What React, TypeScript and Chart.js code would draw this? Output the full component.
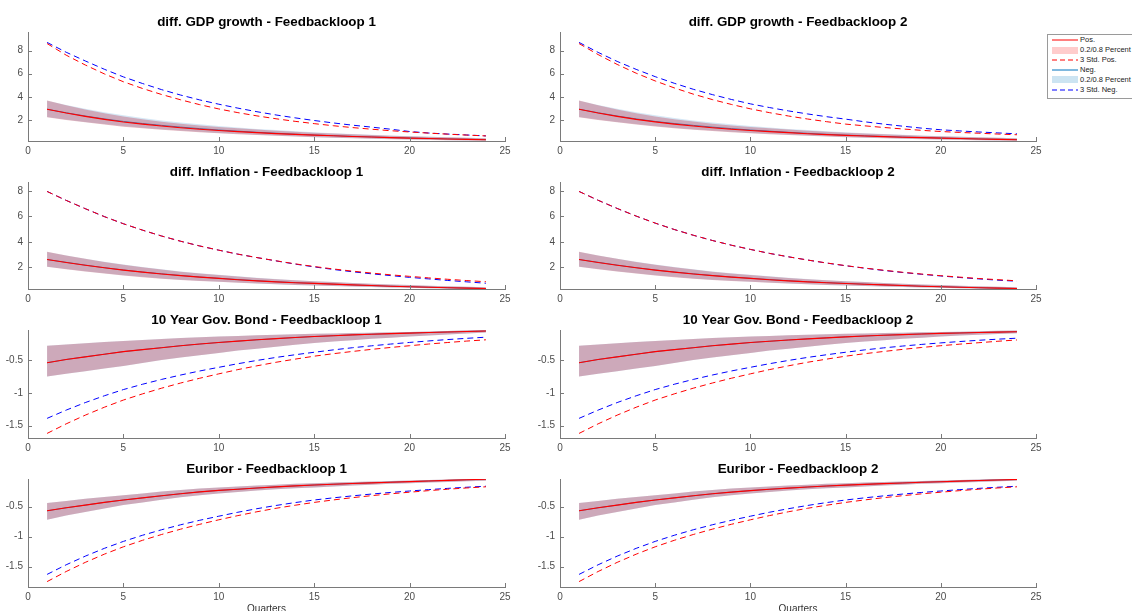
import React, { useEffect, useRef } from "react";
import { Chart, registerables } from "chart.js";

Chart.register(...registerables);

// ---------- data ----------
const quarters = [1, 2, 3, 4, 5, 6, 7, 8, 9, 10, 11, 12, 13, 14, 15, 16, 17, 18, 19, 20, 21, 22, 23, 24];
const xTickValues = [0, 5, 10, 15, 20, 25];
const gdpTicks = [2, 4, 6, 8];
const inflTicks = [2, 4, 6, 8];
const rateTicks = [-1.5, -1, -0.5];

// diff. GDP growth - Feedbackloop 1
const gdp1PosMed = [2.93, 2.6, 2.31, 2.05, 1.82, 1.64, 1.48, 1.33, 1.2, 1.09, 0.99, 0.9, 0.82, 0.75, 0.69, 0.63, 0.57, 0.52, 0.47, 0.43, 0.39, 0.35, 0.32, 0.29];
const gdp1PosHi = [3.67, 3.27, 2.91, 2.58, 2.29, 2.05, 1.85, 1.68, 1.53, 1.4, 1.28, 1.17, 1.07, 0.98, 0.9, 0.83, 0.76, 0.69, 0.63, 0.58, 0.54, 0.5, 0.46, 0.42];
const gdp1PosLo = [2.24, 2.0, 1.79, 1.6, 1.42, 1.28, 1.15, 1.04, 0.94, 0.85, 0.77, 0.7, 0.63, 0.56, 0.5, 0.46, 0.42, 0.38, 0.34, 0.3, 0.27, 0.24, 0.22, 0.2];
const gdp1PosStd = [8.6, 7.6, 6.75, 5.98, 5.3, 4.72, 4.2, 3.74, 3.32, 2.95, 2.63, 2.35, 2.1, 1.88, 1.68, 1.5, 1.34, 1.2, 1.07, 0.96, 0.86, 0.77, 0.69, 0.62];
const gdp1NegMed = [2.93, 2.62, 2.34, 2.09, 1.87, 1.69, 1.53, 1.38, 1.25, 1.13, 1.03, 0.93, 0.85, 0.77, 0.7, 0.64, 0.58, 0.53, 0.48, 0.44, 0.4, 0.36, 0.33, 0.3];
const gdp1NegHi = [3.65, 3.3, 2.97, 2.67, 2.4, 2.17, 1.96, 1.78, 1.62, 1.47, 1.34, 1.22, 1.12, 1.02, 0.93, 0.85, 0.78, 0.71, 0.65, 0.6, 0.55, 0.5, 0.46, 0.42];
const gdp1NegLo = [2.26, 2.04, 1.83, 1.64, 1.47, 1.32, 1.19, 1.08, 0.97, 0.88, 0.8, 0.72, 0.65, 0.58, 0.52, 0.47, 0.43, 0.39, 0.35, 0.31, 0.28, 0.25, 0.22, 0.2];
const gdp1NegStd = [8.7, 7.85, 7.1, 6.38, 5.72, 5.15, 4.62, 4.15, 3.73, 3.36, 3.02, 2.71, 2.43, 2.18, 1.95, 1.74, 1.55, 1.38, 1.2, 1.0, 0.87, 0.78, 0.7, 0.62];

// diff. GDP growth - Feedbackloop 2
const gdp2PosMed = [2.93, 2.6, 2.31, 2.05, 1.83, 1.64, 1.48, 1.33, 1.2, 1.09, 0.99, 0.9, 0.81, 0.73, 0.67, 0.61, 0.56, 0.51, 0.47, 0.43, 0.39, 0.35, 0.32, 0.29];
const gdp2PosHi = [3.67, 3.27, 2.91, 2.58, 2.3, 2.06, 1.86, 1.68, 1.53, 1.4, 1.28, 1.17, 1.07, 0.98, 0.9, 0.83, 0.76, 0.69, 0.63, 0.58, 0.54, 0.5, 0.46, 0.42];
const gdp2PosLo = [2.24, 2.0, 1.79, 1.6, 1.43, 1.28, 1.15, 1.04, 0.94, 0.85, 0.77, 0.7, 0.63, 0.56, 0.5, 0.46, 0.42, 0.38, 0.34, 0.3, 0.27, 0.24, 0.22, 0.2];
const gdp2PosStd = [8.6, 7.65, 6.8, 6.04, 5.37, 4.77, 4.23, 3.76, 3.34, 2.96, 2.63, 2.34, 2.08, 1.85, 1.64, 1.49, 1.35, 1.22, 1.1, 1.0, 0.92, 0.85, 0.78, 0.72];
const gdp2NegMed = [2.93, 2.62, 2.34, 2.09, 1.87, 1.69, 1.53, 1.38, 1.25, 1.13, 1.03, 0.93, 0.84, 0.76, 0.69, 0.63, 0.57, 0.52, 0.48, 0.44, 0.4, 0.36, 0.33, 0.3];
const gdp2NegHi = [3.65, 3.3, 2.97, 2.67, 2.4, 2.17, 1.96, 1.78, 1.62, 1.47, 1.34, 1.22, 1.12, 1.02, 0.93, 0.85, 0.78, 0.71, 0.65, 0.6, 0.55, 0.5, 0.46, 0.42];
const gdp2NegLo = [2.26, 2.04, 1.83, 1.64, 1.47, 1.32, 1.19, 1.08, 0.97, 0.88, 0.8, 0.72, 0.65, 0.58, 0.52, 0.47, 0.43, 0.39, 0.35, 0.31, 0.28, 0.25, 0.22, 0.2];
const gdp2NegStd = [8.7, 7.84, 7.06, 6.37, 5.74, 5.17, 4.65, 4.19, 3.77, 3.39, 3.07, 2.78, 2.52, 2.28, 2.07, 1.84, 1.64, 1.46, 1.29, 1.15, 1.05, 0.96, 0.88, 0.8];

// diff. Inflation - Feedbackloop 1
const inf1PosMed = [2.62, 2.39, 2.17, 1.97, 1.79, 1.63, 1.49, 1.36, 1.24, 1.14, 1.04, 0.95, 0.87, 0.8, 0.75, 0.69, 0.63, 0.58, 0.53, 0.49, 0.45, 0.41, 0.38, 0.35];
const inf1PosHi = [3.22, 2.93, 2.67, 2.42, 2.2, 2.01, 1.83, 1.67, 1.53, 1.4, 1.28, 1.17, 1.08, 0.99, 0.92, 0.85, 0.78, 0.72, 0.67, 0.62, 0.57, 0.53, 0.49, 0.45];
const inf1PosLo = [2.05, 1.86, 1.68, 1.52, 1.37, 1.24, 1.12, 1.02, 0.94, 0.87, 0.8, 0.74, 0.68, 0.63, 0.58, 0.54, 0.5, 0.46, 0.43, 0.4, 0.37, 0.35, 0.33, 0.32];
const inf1PosStd = [7.95, 7.25, 6.6, 5.98, 5.42, 4.92, 4.46, 4.05, 3.68, 3.35, 3.04, 2.77, 2.52, 2.28, 2.07, 1.88, 1.71, 1.56, 1.42, 1.3, 1.18, 1.07, 0.97, 0.88];
const inf1NegMed = [2.62, 2.4, 2.18, 1.98, 1.8, 1.64, 1.5, 1.37, 1.25, 1.15, 1.05, 0.96, 0.88, 0.81, 0.75, 0.69, 0.63, 0.58, 0.53, 0.49, 0.45, 0.41, 0.38, 0.35];
const inf1NegHi = [3.2, 2.93, 2.68, 2.44, 2.22, 2.03, 1.85, 1.69, 1.55, 1.42, 1.3, 1.19, 1.09, 1.0, 0.92, 0.85, 0.78, 0.72, 0.67, 0.62, 0.57, 0.53, 0.49, 0.45];
const inf1NegLo = [2.06, 1.87, 1.7, 1.54, 1.39, 1.26, 1.14, 1.04, 0.95, 0.88, 0.81, 0.75, 0.69, 0.63, 0.58, 0.54, 0.5, 0.46, 0.43, 0.4, 0.37, 0.35, 0.33, 0.32];
const inf1NegStd = [7.95, 7.25, 6.6, 5.98, 5.42, 4.92, 4.46, 4.05, 3.68, 3.35, 3.04, 2.77, 2.51, 2.26, 2.04, 1.84, 1.66, 1.5, 1.36, 1.22, 1.1, 0.98, 0.87, 0.76];

// diff. Inflation - Feedbackloop 2
const inf2PosMed = [2.62, 2.39, 2.17, 1.97, 1.79, 1.63, 1.49, 1.36, 1.24, 1.14, 1.04, 0.95, 0.87, 0.8, 0.74, 0.68, 0.63, 0.58, 0.53, 0.49, 0.45, 0.41, 0.38, 0.35];
const inf2PosHi = [3.22, 2.93, 2.67, 2.42, 2.2, 2.01, 1.83, 1.67, 1.53, 1.4, 1.28, 1.17, 1.08, 0.99, 0.92, 0.85, 0.78, 0.72, 0.67, 0.62, 0.57, 0.53, 0.49, 0.45];
const inf2PosLo = [2.05, 1.86, 1.68, 1.52, 1.37, 1.24, 1.12, 1.02, 0.94, 0.87, 0.8, 0.74, 0.68, 0.63, 0.58, 0.54, 0.5, 0.46, 0.43, 0.4, 0.37, 0.35, 0.33, 0.32];
const inf2PosStd = [7.95, 7.26, 6.62, 6.02, 5.47, 4.97, 4.52, 4.11, 3.74, 3.41, 3.1, 2.83, 2.58, 2.35, 2.14, 1.95, 1.78, 1.62, 1.48, 1.35, 1.24, 1.13, 1.04, 0.95];
const inf2NegMed = [2.62, 2.4, 2.18, 1.98, 1.8, 1.64, 1.5, 1.37, 1.25, 1.15, 1.05, 0.96, 0.88, 0.81, 0.75, 0.69, 0.63, 0.58, 0.53, 0.49, 0.45, 0.41, 0.38, 0.35];
const inf2NegHi = [3.2, 2.93, 2.68, 2.44, 2.22, 2.03, 1.85, 1.69, 1.55, 1.42, 1.3, 1.19, 1.09, 1.0, 0.92, 0.85, 0.78, 0.72, 0.67, 0.62, 0.57, 0.53, 0.49, 0.45];
const inf2NegLo = [2.06, 1.87, 1.7, 1.54, 1.39, 1.26, 1.14, 1.04, 0.95, 0.88, 0.81, 0.75, 0.69, 0.63, 0.58, 0.54, 0.5, 0.46, 0.43, 0.4, 0.37, 0.35, 0.33, 0.32];
const inf2NegStd = [7.95, 7.26, 6.62, 6.02, 5.47, 4.97, 4.52, 4.11, 3.74, 3.41, 3.1, 2.83, 2.58, 2.34, 2.13, 1.94, 1.76, 1.6, 1.46, 1.33, 1.21, 1.1, 1.0, 0.92];

// 10 Year Gov. Bond - Feedbackloop 1
const bond1PosMed = [-0.54, -0.49, -0.45, -0.41, -0.37, -0.34, -0.31, -0.28, -0.255, -0.23, -0.21, -0.19, -0.172, -0.155, -0.14, -0.127, -0.115, -0.105, -0.096, -0.087, -0.079, -0.071, -0.063, -0.056];
const bond1PosHi = [-0.28, -0.26, -0.243, -0.225, -0.208, -0.192, -0.177, -0.163, -0.151, -0.14, -0.13, -0.121, -0.113, -0.106, -0.099, -0.093, -0.087, -0.081, -0.075, -0.07, -0.062, -0.054, -0.045, -0.038];
const bond1PosLo = [-0.75, -0.71, -0.67, -0.63, -0.59, -0.545, -0.5, -0.46, -0.425, -0.39, -0.355, -0.325, -0.295, -0.265, -0.24, -0.215, -0.195, -0.175, -0.157, -0.14, -0.125, -0.11, -0.093, -0.077];
const bond1PosStd = [-1.62, -1.474, -1.341, -1.22, -1.11, -1.016, -0.929, -0.85, -0.777, -0.71, -0.645, -0.587, -0.533, -0.485, -0.44, -0.402, -0.368, -0.336, -0.307, -0.28, -0.254, -0.231, -0.209, -0.19];
const bond1NegMed = [-0.54, -0.49, -0.45, -0.41, -0.37, -0.34, -0.31, -0.28, -0.255, -0.23, -0.21, -0.19, -0.172, -0.155, -0.14, -0.127, -0.115, -0.105, -0.096, -0.087, -0.079, -0.071, -0.063, -0.056];
const bond1NegHi = [-0.28, -0.26, -0.243, -0.225, -0.208, -0.192, -0.177, -0.163, -0.151, -0.14, -0.13, -0.121, -0.113, -0.106, -0.099, -0.093, -0.087, -0.081, -0.075, -0.07, -0.062, -0.054, -0.045, -0.038];
const bond1NegLo = [-0.75, -0.71, -0.67, -0.63, -0.59, -0.545, -0.5, -0.46, -0.425, -0.39, -0.355, -0.325, -0.295, -0.265, -0.24, -0.215, -0.195, -0.175, -0.157, -0.14, -0.125, -0.11, -0.093, -0.077];
const bond1NegStd = [-1.39, -1.264, -1.149, -1.045, -0.95, -0.869, -0.795, -0.728, -0.666, -0.61, -0.555, -0.505, -0.459, -0.418, -0.38, -0.344, -0.311, -0.282, -0.255, -0.23, -0.207, -0.186, -0.167, -0.15];

// 10 Year Gov. Bond - Feedbackloop 2
const bond2PosMed = [-0.54, -0.49, -0.45, -0.41, -0.37, -0.34, -0.31, -0.28, -0.256, -0.232, -0.212, -0.193, -0.176, -0.16, -0.145, -0.132, -0.12, -0.11, -0.1, -0.092, -0.085, -0.078, -0.072, -0.066];
const bond2PosHi = [-0.28, -0.26, -0.243, -0.225, -0.208, -0.192, -0.177, -0.163, -0.151, -0.14, -0.13, -0.121, -0.113, -0.106, -0.099, -0.093, -0.087, -0.081, -0.075, -0.07, -0.065, -0.06, -0.053, -0.046];
const bond2PosLo = [-0.75, -0.71, -0.67, -0.63, -0.59, -0.545, -0.5, -0.46, -0.425, -0.39, -0.355, -0.325, -0.295, -0.265, -0.24, -0.215, -0.195, -0.175, -0.157, -0.14, -0.125, -0.112, -0.1, -0.088];
const bond2PosStd = [-1.62, -1.474, -1.341, -1.22, -1.11, -1.016, -0.929, -0.85, -0.777, -0.71, -0.645, -0.587, -0.533, -0.485, -0.44, -0.402, -0.368, -0.336, -0.307, -0.28, -0.256, -0.234, -0.212, -0.192];
const bond2NegMed = [-0.54, -0.49, -0.45, -0.41, -0.37, -0.34, -0.31, -0.28, -0.256, -0.232, -0.212, -0.193, -0.176, -0.16, -0.145, -0.132, -0.12, -0.11, -0.1, -0.092, -0.085, -0.078, -0.072, -0.066];
const bond2NegHi = [-0.28, -0.26, -0.243, -0.225, -0.208, -0.192, -0.177, -0.163, -0.151, -0.14, -0.13, -0.121, -0.113, -0.106, -0.099, -0.093, -0.087, -0.081, -0.075, -0.07, -0.065, -0.06, -0.053, -0.046];
const bond2NegLo = [-0.75, -0.71, -0.67, -0.63, -0.59, -0.545, -0.5, -0.46, -0.425, -0.39, -0.355, -0.325, -0.295, -0.265, -0.24, -0.215, -0.195, -0.175, -0.157, -0.14, -0.125, -0.112, -0.1, -0.088];
const bond2NegStd = [-1.39, -1.264, -1.149, -1.045, -0.95, -0.869, -0.795, -0.728, -0.666, -0.61, -0.555, -0.505, -0.459, -0.418, -0.38, -0.344, -0.313, -0.285, -0.26, -0.237, -0.216, -0.197, -0.18, -0.165];

// Euribor - Feedbackloop 1
const eur1PosMed = [-0.57, -0.52, -0.475, -0.43, -0.39, -0.355, -0.32, -0.285, -0.255, -0.23, -0.21, -0.19, -0.172, -0.155, -0.14, -0.127, -0.115, -0.104, -0.093, -0.083, -0.073, -0.063, -0.053, -0.044];
const eur1PosHi = [-0.44, -0.405, -0.37, -0.34, -0.31, -0.28, -0.25, -0.223, -0.2, -0.18, -0.163, -0.147, -0.134, -0.121, -0.11, -0.1, -0.09, -0.081, -0.072, -0.064, -0.056, -0.047, -0.038, -0.03];
const eur1PosLo = [-0.72, -0.65, -0.59, -0.53, -0.475, -0.43, -0.385, -0.345, -0.31, -0.28, -0.255, -0.232, -0.212, -0.195, -0.18, -0.163, -0.148, -0.134, -0.121, -0.109, -0.098, -0.088, -0.079, -0.07];
const eur1PosStd = [-1.75, -1.582, -1.43, -1.293, -1.17, -1.062, -0.965, -0.876, -0.795, -0.72, -0.65, -0.586, -0.528, -0.477, -0.43, -0.389, -0.351, -0.318, -0.287, -0.26, -0.234, -0.21, -0.189, -0.17];
const eur1NegMed = [-0.57, -0.52, -0.475, -0.43, -0.39, -0.355, -0.32, -0.285, -0.255, -0.23, -0.21, -0.19, -0.172, -0.155, -0.14, -0.127, -0.115, -0.104, -0.093, -0.083, -0.073, -0.063, -0.053, -0.044];
const eur1NegHi = [-0.44, -0.405, -0.37, -0.34, -0.31, -0.28, -0.25, -0.223, -0.2, -0.18, -0.163, -0.147, -0.134, -0.121, -0.11, -0.1, -0.09, -0.081, -0.072, -0.064, -0.056, -0.047, -0.038, -0.03];
const eur1NegLo = [-0.72, -0.65, -0.59, -0.53, -0.475, -0.43, -0.385, -0.345, -0.31, -0.28, -0.255, -0.232, -0.212, -0.195, -0.18, -0.163, -0.148, -0.134, -0.121, -0.109, -0.098, -0.088, -0.079, -0.07];
const eur1NegStd = [-1.63, -1.47, -1.326, -1.196, -1.08, -0.978, -0.886, -0.803, -0.728, -0.66, -0.594, -0.535, -0.481, -0.433, -0.39, -0.354, -0.321, -0.291, -0.264, -0.24, -0.217, -0.196, -0.177, -0.16];

// Euribor - Feedbackloop 2
const eur2PosMed = [-0.57, -0.52, -0.475, -0.43, -0.39, -0.355, -0.32, -0.287, -0.258, -0.233, -0.212, -0.192, -0.174, -0.157, -0.142, -0.129, -0.117, -0.106, -0.095, -0.085, -0.075, -0.065, -0.056, -0.047];
const eur2PosHi = [-0.44, -0.405, -0.37, -0.34, -0.31, -0.28, -0.25, -0.223, -0.2, -0.18, -0.163, -0.147, -0.134, -0.121, -0.11, -0.1, -0.09, -0.081, -0.072, -0.064, -0.056, -0.047, -0.038, -0.03];
const eur2PosLo = [-0.72, -0.65, -0.59, -0.53, -0.475, -0.43, -0.385, -0.345, -0.31, -0.28, -0.255, -0.232, -0.212, -0.195, -0.18, -0.163, -0.148, -0.134, -0.121, -0.109, -0.098, -0.088, -0.079, -0.07];
const eur2PosStd = [-1.75, -1.582, -1.43, -1.293, -1.17, -1.062, -0.965, -0.876, -0.795, -0.72, -0.65, -0.586, -0.528, -0.477, -0.43, -0.389, -0.351, -0.318, -0.287, -0.26, -0.234, -0.21, -0.189, -0.17];
const eur2NegMed = [-0.57, -0.52, -0.475, -0.43, -0.39, -0.355, -0.32, -0.287, -0.258, -0.233, -0.212, -0.192, -0.174, -0.157, -0.142, -0.129, -0.117, -0.106, -0.095, -0.085, -0.075, -0.065, -0.056, -0.047];
const eur2NegHi = [-0.44, -0.405, -0.37, -0.34, -0.31, -0.28, -0.25, -0.223, -0.2, -0.18, -0.163, -0.147, -0.134, -0.121, -0.11, -0.1, -0.09, -0.081, -0.072, -0.064, -0.056, -0.047, -0.038, -0.03];
const eur2NegLo = [-0.72, -0.65, -0.59, -0.53, -0.475, -0.43, -0.385, -0.345, -0.31, -0.28, -0.255, -0.232, -0.212, -0.195, -0.18, -0.163, -0.148, -0.134, -0.121, -0.109, -0.098, -0.088, -0.079, -0.07];
const eur2NegStd = [-1.63, -1.47, -1.326, -1.196, -1.08, -0.978, -0.886, -0.803, -0.728, -0.66, -0.594, -0.535, -0.481, -0.433, -0.39, -0.354, -0.321, -0.291, -0.264, -0.24, -0.217, -0.196, -0.177, -0.16];

const legendLabels = ["Pos.", "0.2/0.8 Percent", "3 Std. Pos.", "Neg.", "0.2/0.8 Percent", "3 Std. Neg."];

// ---------- styles ----------
const FONT = "'Liberation Sans', Arial, Helvetica, sans-serif";
const RED = "rgb(255,0,0)";
const BLUE = "rgb(0,0,255)";
const NEG_LINE = "rgb(0,114,189)";
const POS_BAND = "rgba(195,95,115,0.45)";
const NEG_BAND = "rgba(150,195,230,0.4)";
const POS_BAND_LEGEND = "rgb(255,204,204)";
const NEG_BAND_LEGEND = "rgb(204,228,242)";
const AXIS = "#7a7a7a";
const TICK_TEXT = "#4d4d4d";
const NONE = "rgba(0,0,0,0)";

type Panel = {
  title: string;
  row: number;
  col: number;
  yMin: number;
  yMax: number;
  yTicks: number[];
  posMed: number[]; posHi: number[]; posLo: number[]; posStd: number[];
  negMed: number[]; negHi: number[]; negLo: number[]; negStd: number[];
};

const panels: Panel[] = [
  { title: "diff. GDP growth - Feedbackloop 1", row: 0, col: 0, yMin: 0.18, yMax: 9.6, yTicks: gdpTicks,
    posMed: gdp1PosMed, posHi: gdp1PosHi, posLo: gdp1PosLo, posStd: gdp1PosStd, negMed: gdp1NegMed, negHi: gdp1NegHi, negLo: gdp1NegLo, negStd: gdp1NegStd },
  { title: "diff. GDP growth - Feedbackloop 2", row: 0, col: 1, yMin: 0.18, yMax: 9.6, yTicks: gdpTicks,
    posMed: gdp2PosMed, posHi: gdp2PosHi, posLo: gdp2PosLo, posStd: gdp2PosStd, negMed: gdp2NegMed, negHi: gdp2NegHi, negLo: gdp2NegLo, negStd: gdp2NegStd },
  { title: "diff. Inflation - Feedbackloop 1", row: 1, col: 0, yMin: 0.31, yMax: 8.69, yTicks: inflTicks,
    posMed: inf1PosMed, posHi: inf1PosHi, posLo: inf1PosLo, posStd: inf1PosStd, negMed: inf1NegMed, negHi: inf1NegHi, negLo: inf1NegLo, negStd: inf1NegStd },
  { title: "diff. Inflation - Feedbackloop 2", row: 1, col: 1, yMin: 0.31, yMax: 8.69, yTicks: inflTicks,
    posMed: inf2PosMed, posHi: inf2PosHi, posLo: inf2PosLo, posStd: inf2PosStd, negMed: inf2NegMed, negHi: inf2NegHi, negLo: inf2NegLo, negStd: inf2NegStd },
  { title: "10 Year Gov. Bond - Feedbackloop 1", row: 2, col: 0, yMin: -1.69, yMax: -0.04, yTicks: rateTicks,
    posMed: bond1PosMed, posHi: bond1PosHi, posLo: bond1PosLo, posStd: bond1PosStd, negMed: bond1NegMed, negHi: bond1NegHi, negLo: bond1NegLo, negStd: bond1NegStd },
  { title: "10 Year Gov. Bond - Feedbackloop 2", row: 2, col: 1, yMin: -1.69, yMax: -0.04, yTicks: rateTicks,
    posMed: bond2PosMed, posHi: bond2PosHi, posLo: bond2PosLo, posStd: bond2PosStd, negMed: bond2NegMed, negHi: bond2NegHi, negLo: bond2NegLo, negStd: bond2NegStd },
  { title: "Euribor - Feedbackloop 1", row: 3, col: 0, yMin: -1.84, yMax: -0.04, yTicks: rateTicks,
    posMed: eur1PosMed, posHi: eur1PosHi, posLo: eur1PosLo, posStd: eur1PosStd, negMed: eur1NegMed, negHi: eur1NegHi, negLo: eur1NegLo, negStd: eur1NegStd },
  { title: "Euribor - Feedbackloop 2", row: 3, col: 1, yMin: -1.84, yMax: -0.04, yTicks: rateTicks,
    posMed: eur2PosMed, posHi: eur2PosHi, posLo: eur2PosLo, posStd: eur2PosStd, negMed: eur2NegMed, negHi: eur2NegHi, negLo: eur2NegLo, negStd: eur2NegStd },
];

// layout geometry (page pixels)
const ROW_TOP = [32, 182, 330, 479];
const ROW_BOTTOM = [141, 289, 438, 587];
const COL_LEFT = [0, 532];
const COL_WIDTH = [515, 514];
const Y_AXIS_W = 28;
const TITLE_SIZE = 13.4;
const TITLE_PAD_TOP = 7;
const TITLE_PAD_BOTTOM = 2;
const TOP_PAD = 0.92;
const TITLE_SPACE = Math.round(TITLE_SIZE * 1.2 + TITLE_PAD_TOP + TITLE_PAD_BOTTOM + TOP_PAD);

const inwardTicks = {
  id: "inwardTicks",
  afterDraw(chart: any) {
    const { ctx, chartArea, scales } = chart;
    const xs = scales.x;
    const ys = scales.y;
    ctx.save();
    ctx.strokeStyle = AXIS;
    ctx.lineWidth = 1;
    ctx.beginPath();
    xs.ticks.forEach((t: any) => {
      const px = Math.round(xs.getPixelForValue(t.value)) + 0.5;
      ctx.moveTo(px, chartArea.bottom);
      ctx.lineTo(px, chartArea.bottom - 4);
    });
    ys.ticks.forEach((t: any) => {
      const py = Math.round(ys.getPixelForValue(t.value)) + 0.5;
      ctx.moveTo(chartArea.left, py);
      ctx.lineTo(chartArea.left + 4, py);
    });
    ctx.stroke();
    ctx.restore();
  },
};

function series(arr: number[], color: string, extra: any = {}) {
  return {
    data: quarters.map((q, i) => ({ x: q, y: arr[i] })),
    borderColor: color,
    borderWidth: 1,
    pointRadius: 0,
    pointHoverRadius: 0,
    tension: 0,
    fill: false,
    ...extra,
  };
}

function PanelChart({ p }: { p: Panel }) {
  const ref = useRef<HTMLCanvasElement | null>(null);
  const isBottom = p.row === 3;
  const xH = isBottom ? 28 : 24;
  const top = ROW_TOP[p.row] - TITLE_SPACE;
  const height = TITLE_SPACE + (ROW_BOTTOM[p.row] - ROW_TOP[p.row]) + xH;
  const left = COL_LEFT[p.col];
  const width = COL_WIDTH[p.col];
  const padTop = TITLE_SPACE - (TITLE_SIZE * 1.2 + TITLE_PAD_TOP + TITLE_PAD_BOTTOM);

  useEffect(() => {
    if (!ref.current) return;
    const chart = new Chart(ref.current, {
      type: "line",
      data: {
        datasets: [
          series(p.posStd, RED, { borderDash: [6, 4] }),
          series(p.posMed, RED, { borderWidth: 1.1 }),
          series(p.posHi, NONE, { borderWidth: 0, fill: "+1", backgroundColor: POS_BAND }),
          series(p.posLo, NONE, { borderWidth: 0 }),
          series(p.negStd, BLUE, { borderDash: [6, 4] }),
          series(p.negMed, NEG_LINE, {}),
          series(p.negHi, NONE, { borderWidth: 0, fill: "+1", backgroundColor: NEG_BAND }),
          series(p.negLo, NONE, { borderWidth: 0 }),
        ] as any,
      },
      options: {
        responsive: false,
        animation: false,
        devicePixelRatio: 1,
        events: [],
        layout: { padding: { top: padTop, right: 10, left: 0, bottom: 0 } },
        plugins: {
          legend: { display: false },
          tooltip: { enabled: false },
          title: {
            display: true,
            text: p.title,
            fullSize: false,
            color: "#000",
            font: { family: FONT, size: TITLE_SIZE, weight: "bold", lineHeight: 1.2 },
            padding: { top: TITLE_PAD_TOP, bottom: TITLE_PAD_BOTTOM },
          },
        },
        scales: {
          x: {
            type: "linear",
            min: 0,
            max: 25,
            grid: { display: false, drawTicks: false },
            border: { display: true, color: AXIS, width: 1 },
            ticks: {
              font: { family: FONT, size: 10 },
              color: TICK_TEXT,
              padding: 4,
              maxRotation: 0,
              autoSkip: false,
              callback: (v: any) => String(v),
            },
            afterBuildTicks: (s: any) => {
              s.ticks = xTickValues.map((v) => ({ value: v }));
            },
            afterFit: (s: any) => {
              s.height = xH;
            },
            title: isBottom
              ? { display: true, text: "Quarters", color: "#333", font: { family: FONT, size: 10 }, padding: { top: 0, bottom: 0 } }
              : { display: false },
          },
          y: {
            type: "linear",
            min: p.yMin,
            max: p.yMax,
            grid: { display: false, drawTicks: false },
            border: { display: true, color: AXIS, width: 1 },
            ticks: {
              font: { family: FONT, size: 10 },
              color: TICK_TEXT,
              padding: 5,
              callback: (v: any) => String(v),
            },
            afterBuildTicks: (s: any) => {
              s.ticks = p.yTicks.map((v) => ({ value: v }));
            },
            afterFit: (s: any) => {
              s.width = Y_AXIS_W;
            },
          },
        },
      } as any,
      plugins: [inwardTicks],
    });
    return () => chart.destroy();
  }, []);

  return (
    <canvas
      ref={ref}
      width={width}
      height={height}
      style={{ position: "absolute", left, top, width, height }}
    />
  );
}

function LegendSample({ kind }: { kind: number }) {
  const w = 26;
  const h = 10;
  if (kind === 1 || kind === 4) {
    return (
      <div
        style={{
          position: "absolute",
          left: 4,
          top: 1.5,
          width: w,
          height: 7,
          background: kind === 1 ? POS_BAND_LEGEND : NEG_BAND_LEGEND,
        }}
      />
    );
  }
  const color = kind === 0 ? RED : kind === 2 ? RED : kind === 3 ? NEG_LINE : BLUE;
  const dashed = kind === 2 || kind === 5;
  return (
    <svg width={w} height={h} style={{ position: "absolute", left: 4, top: 0 }}>
      <line x1={0} y1={5} x2={w} y2={5} stroke={color} strokeWidth={1} strokeDasharray={dashed ? "5 3" : undefined} />
    </svg>
  );
}

function Legend() {
  return (
    <div
      style={{
        position: "absolute",
        left: 1047,
        top: 34,
        width: 100,
        height: 65,
        boxSizing: "border-box",
        border: "1px solid #9a9a9a",
        background: "#fff",
      }}
    >
      {legendLabels.map((lbl, i) => (
        <div key={i} style={{ position: "absolute", left: 0, top: 0.3 + i * 9.9, width: 100, height: 10 }}>
          <LegendSample kind={i} />
          <span
            style={{
              position: "absolute",
              left: 32,
              top: 0,
              fontFamily: FONT,
              fontSize: 7.5,
              lineHeight: "10px",
              color: "#222",
              whiteSpace: "nowrap",
            }}
          >
            {lbl}
          </span>
        </div>
      ))}
    </div>
  );
}

export default function App() {
  return (
    <div
      style={{
        position: "absolute",
        left: 0,
        top: 0,
        width: 1132,
        height: 611,
        overflow: "hidden",
        background: "#fff",
      }}
    >
      {panels.map((p, i) => (
        <PanelChart key={i} p={p} />
      ))}
      <Legend />
    </div>
  );
}
